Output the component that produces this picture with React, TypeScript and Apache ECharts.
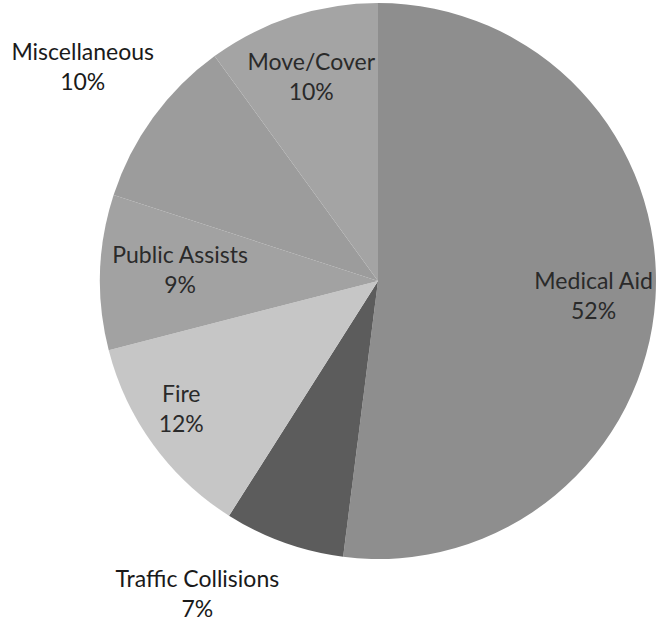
import React, { useEffect, useRef } from "react";
import * as echarts from "echarts";

const categories = ["Medical Aid", "Traffic Collisions", "Fire", "Public Assists", "Miscellaneous", "Move/Cover"];
const values = [52, 7, 12, 9, 10, 10];
const colors = ["#8e8e8e", "#5c5c5c", "#c6c6c6", "#a2a2a2", "#9c9c9c", "#a4a4a4"];
const outsideLabels = ["Miscellaneous", "Traffic Collisions"];

export default function App() {
  const ref = useRef<HTMLDivElement>(null);
  useEffect(() => {
    document.body.style.margin = "0";
    const chart = echarts.init(ref.current!, undefined, { renderer: "svg" });
    const fmt = (p: any) => `${p.name}\n${p.value}%`;
    const baseData = categories.map((name, i) => ({ name, value: values[i] }));
    const labelStyle = {
      fontFamily: "Lato, 'Open Sans', sans-serif",
      fontSize: 23,
      lineHeight: 30,
    };
    const innerNudge: Record<number, { dx: number; dy: number }> = {
      2: { dx: -22, dy: 0 },
      3: { dx: 18, dy: -5 },
    };
    chart.setOption({
      animation: false,
      backgroundColor: "#ffffff",
      series: [
        {
          type: "pie",
          center: [378, 281],
          radius: 278,
          startAngle: 90,
          clockwise: true,
          silent: true,
          label: { show: false },
          labelLine: { show: false },
          itemStyle: { borderWidth: 0 },
          data: baseData.map((d, i) => ({ ...d, itemStyle: { color: colors[i] } })),
        },
        {
          type: "pie",
          center: [378, 281],
          radius: [150, 276],
          startAngle: 90,
          clockwise: true,
          silent: true,
          itemStyle: { color: "rgba(0,0,0,0)", borderWidth: 0 },
          labelLine: { show: false },
          label: {
            show: true,
            position: "inside",
            formatter: fmt,
            color: "#2a2a2a",
            ...labelStyle,
          },
          labelLayout: (p: any) => innerNudge[p.dataIndex] || {},
          data: baseData.map((d) => ({
            ...d,
            label: { show: !outsideLabels.includes(d.name) },
          })),
        },
        {
          type: "pie",
          center: [378, 281],
          radius: [330, 394],
          startAngle: 90,
          clockwise: true,
          silent: true,
          itemStyle: { color: "rgba(0,0,0,0)", borderWidth: 0 },
          labelLine: { show: false },
          label: {
            show: true,
            position: "inside",
            formatter: fmt,
            color: "#1a1a1a",
            ...labelStyle,
          },
          labelLayout: (p: any) =>
            p.dataIndex === 1 ? { dx: -57, dy: -31 } : {},
          data: baseData.map((d) => ({
            ...d,
            label: { show: outsideLabels.includes(d.name) },
          })),
        },
      ],
    });
    return () => chart.dispose();
  }, []);
  return <div ref={ref} style={{ width: 658, height: 623 }} />;
}
